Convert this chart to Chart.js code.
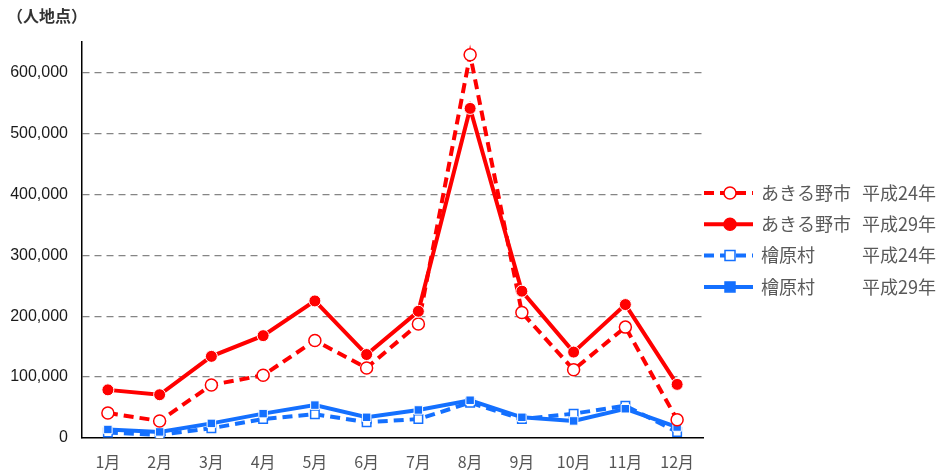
<!DOCTYPE html>
<html>
<head>
<meta charset="utf-8">
<script src="https://cdn.jsdelivr.net/npm/chart.js@4/dist/chart.umd.min.js"></script>
<style>
  html, body { margin: 0; padding: 0; background: #fff; }
  #wrap { position: relative; width: 942px; height: 472px; }
  #unit { position: absolute; left: 7px; top: 3px; font: bold 16px "Noto Sans CJK JP", sans-serif; color: #333; }
</style>
</head>
<body>
<div id="wrap">
  <div id="unit">（人地点）</div>
  <canvas id="c" width="942" height="472"></canvas>
</div>
<script>
// 月
const months = ['1月', '2月', '3月', '4月', '5月', '6月', '7月', '8月', '9月', '10月', '11月', '12月'];
// あきる野市
const akiruno24 = [41000, 28000, 87000, 103000, 160000, 115000, 187000, 629000, 206000, 112000, 182000, 30000];
const akiruno29 = [79000, 71000, 134000, 168000, 225000, 137000, 208000, 541000, 241000, 141000, 219000, 88000];
// 檜原村
const hinohara24 = [9000, 5000, 16000, 31000, 39000, 26000, 31000, 58000, 31000, 40000, 53000, 10000];
const hinohara29 = [14000, 10000, 24000, 40000, 54000, 34000, 46000, 62000, 34000, 28000, 48000, 18000];
const yTicks = [0, 100000, 200000, 300000, 400000, 500000, 600000];

const RED = '#ff0000';
const BLUE = '#1470ff';

const legendItems = [
  { name: 'あきる野市', year: '平成24年', color: RED, dash: true, shape: 'circle', open: true },
  { name: 'あきる野市', year: '平成29年', color: RED, dash: false, shape: 'circle', open: false },
  { name: '檜原村', year: '平成24年', color: BLUE, dash: true, shape: 'rect', open: true },
  { name: '檜原村', year: '平成29年', color: BLUE, dash: false, shape: 'rect', open: false }
];

// 凡例（線＋マーカー）
const sideLegend = {
  id: 'sideLegend',
  afterDraw(chart) {
    const ctx = chart.ctx;
    ctx.save();
    legendItems.forEach((it, i) => {
      const y = 193 + i * 31.3;
      ctx.strokeStyle = it.color;
      ctx.lineWidth = 4;
      ctx.setLineDash(it.dash ? [10, 6] : []);
      ctx.beginPath();
      ctx.moveTo(704, y);
      ctx.lineTo(753, y);
      ctx.stroke();
      ctx.setLineDash([]);
      ctx.fillStyle = it.open ? '#fff' : it.color;
      ctx.lineWidth = 1.5;
      ctx.beginPath();
      if (it.shape === 'circle') {
        ctx.arc(730, y, 6, 0, Math.PI * 2);
      } else {
        ctx.rect(725, y - 5, 10, 10);
      }
      ctx.fill();
      ctx.stroke();
      ctx.fillStyle = '#595959';
      ctx.font = '18px "Noto Sans CJK JP", sans-serif';
      ctx.textBaseline = 'middle';
      ctx.fillText(it.name, 761, y);
      ctx.fillText(it.year, 862, y);
    });
    ctx.restore();
  }
};

function series(label, data, color, dash, shape, open, order) {
  return {
    label: label,
    data: data,
    borderColor: color,
    backgroundColor: open ? '#fff' : color,
    borderWidth: 4,
    borderDash: dash ? [10, 6] : [],
    pointStyle: shape,
    pointRadius: 6,
    pointBorderWidth: open ? 1.5 : 1,
    pointBorderColor: open ? color : '#fff',
    pointBackgroundColor: open ? '#fff' : color,
    tension: 0,
    order: order
  };
}

new Chart(document.getElementById('c').getContext('2d'), {
  type: 'line',
  data: {
    labels: months,
    datasets: [
      series('あきる野市 平成24年', akiruno24, RED, true, 'circle', true, 2),
      series('あきる野市 平成29年', akiruno29, RED, false, 'circle', false, 1),
      series('檜原村 平成24年', hinohara24, BLUE, true, 'rect', true, 4),
      series('檜原村 平成29年', hinohara29, BLUE, false, 'rect', false, 3)
    ]
  },
  options: {
    responsive: false,
    animation: false,
    layout: { padding: { top: 42, right: 239, left: 0, bottom: 0 } },
    plugins: {
      legend: { display: false },
      tooltip: { enabled: false }
    },
    scales: {
      x: {
        offset: true,
        grid: { display: false, drawTicks: false },
        border: { color: '#000', width: 1.5 },
        ticks: { color: '#555', padding: 14, font: { size: 16, family: '"Noto Sans CJK JP", sans-serif' } },
        afterFit(s) { s.height = 34; }
      },
      y: {
        min: 0,
        max: 650000,
        afterBuildTicks(s) { s.ticks = yTicks.map(v => ({ value: v })); },
        grid: {
          color: c => c.tick && c.tick.value === 0 ? 'rgba(0,0,0,0)' : '#858585',
          lineWidth: 1.3,
          drawTicks: false
        },
        border: { color: '#000', width: 1.5, dash: [7, 5] },
        ticks: {
          color: '#1a1a1a',
          padding: 14,
          font: { size: 16, family: '"Liberation Sans", Arial, sans-serif' },
          callback: v => v.toLocaleString('en-US')
        },
        afterFit(s) { s.width = 82; }
      }
    }
  },
  plugins: [sideLegend]
});
</script>
</body>
</html>
